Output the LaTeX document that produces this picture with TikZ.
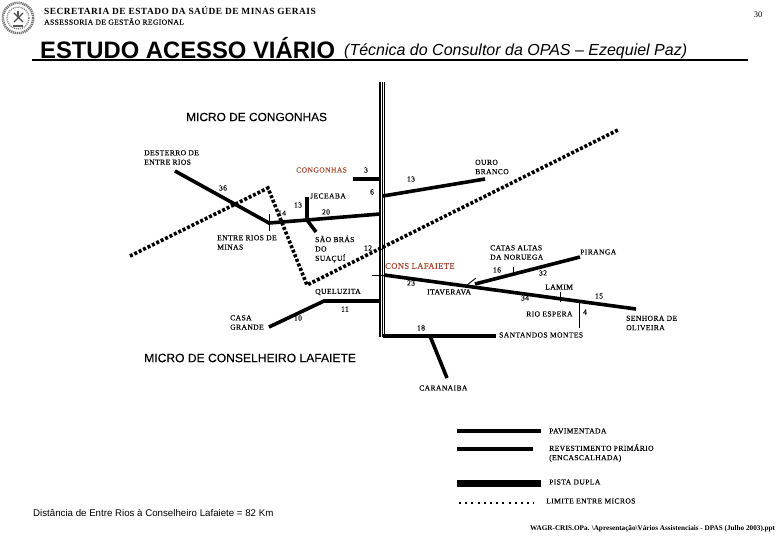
\documentclass[tikz,border=0pt]{standalone}
\usepackage{fontspec}
\setmainfont{Liberation Serif}
\setsansfont{Liberation Sans}
\newfontfamily\mapfont[LetterSpace=5,FakeBold=0.12]{Liberation Serif}
\newfontfamily\semifont[FakeBold=0.12]{Liberation Sans}
\newcommand{\mapsize}{\fontsize{7.6}{9.4}\selectfont\mapfont}
\definecolor{rust}{HTML}{A8492C}
\tikzset{
  x=1pt,y=-1pt,
  road/.style={line width=3.6pt,line join=miter,black},
  thin road/.style={line width=0.9pt,black},
  pista/.style={line width=1.1pt,black},
  border/.style={line width=3.6pt,dash pattern=on 3pt off 1.9pt,black},
  lab/.style={inner sep=0pt,align=left,anchor=west,font=\mapsize,text=black},
  num/.style={inner sep=0pt,anchor=center,font=\mapsize,text=black},
  city/.style={lab,text=rust},
  head/.style={inner sep=0pt,anchor=west,text=black},
}
\begin{document}
\begin{tikzpicture}
\useasboundingbox (0,0) rectangle (780,540);
% seal
\draw[line width=2.6pt,black!55,dash pattern=on 1.2pt off 0.8pt] (18,18) circle (15.2);
\draw[line width=1.4pt,black!50,dash pattern=on 1pt off 1pt] (18,18) circle (11);
\draw[line width=1.3pt,black!70] (14,13)--(23,22) (23,13)--(14,22);
\draw[line width=1.4pt,black!65] (18,11)--(18,17) (13,26)--(23,26);
% header
\node[head,font=\bfseries\fontsize{9.4}{10}\selectfont] (h1) at (44,10.5) {\addfontfeature{LetterSpace=5}SECRETARIA DE ESTADO DA SAÚDE DE MINAS GERAIS};
\node[head,font=\fontsize{7.6}{9}\selectfont\mapfont] (h2) at (44,21.5) {ASSESSORIA DE GESTÃO REGIONAL};
\node[inner sep=0pt,anchor=center,font=\fontsize{8.5}{10}\selectfont] (pg) at (758,15) {30};
\node[head,font=\sffamily\bfseries\fontsize{23.8}{26}\selectfont] (title) at (40,48.5) {ESTUDO ACESSO VIÁRIO};
\node[head,font=\sffamily\itshape\fontsize{16}{18}\selectfont] (sub) at (344,51.5) {(Técnica do Consultor da OPAS – Ezequiel Paz)};
\coordinate (ruleL) at (32,60.5); \coordinate (ruleR) at (748,60.5);
\draw[line width=2pt] (ruleL)--(ruleR);
\node[head,font=\semifont\fontsize{11.9}{14}\selectfont] (mc) at (186,117) {MICRO DE CONGONHAS};
\node[head,font=\semifont\fontsize{12.1}{14}\selectfont] (ml) at (144,358) {MICRO DE CONSELHEIRO LAFAIETE};
% main road
\coordinate (p1t) at (380,82); \coordinate (p1b) at (380,337);
\coordinate (p2t) at (382.4,82); \coordinate (p2b) at (382.4,337);
\coordinate (p3t) at (384.6,82); \coordinate (p3b) at (384.6,337);
\draw[pista] (p1t)--(p1b);\draw[pista] (p2t)--(p2b);\draw[pista] (p3t)--(p3b);
% limits
\coordinate (b0) at (130,256); \coordinate (b1) at (268,188); \coordinate (b2) at (307,285); \coordinate (b3) at (618,130);
\draw[border] (b0)--(b1)--(b2)--(b3);
% roads
\coordinate (dest) at (175,171); \coordinate (er) at (269,223); \coordinate (jj) at (307,220); \coordinate (e20) at (380,214);
\draw[road] (dest)--(er)--(jj)--(e20);
\coordinate (jec) at (307,197); \draw[road] (jec)--(jj);
\coordinate (sb) at (316,232); \draw[road] (jj)--(sb);
\coordinate (tk1) at (269,214); \coordinate (tk2) at (269,231); \draw[thin road] (tk1)--(tk2);
\coordinate (cg1) at (353,179); \coordinate (cg2) at (380,179); \draw[road] (cg1)--(cg2);
\coordinate (ob1) at (383,196); \coordinate (ob2) at (485,179); \draw[road] (ob1)--(ob2);
\coordinate (q1) at (380,301); \coordinate (q2) at (324,301); \coordinate (q3) at (269,327); \draw[road] (q1)--(q2)--(q3);
\coordinate (s1) at (383,336); \coordinate (s2) at (496,336); \draw[road] (s1)--(s2);
\coordinate (c1) at (430,336); \coordinate (c2) at (447,378); \draw[road] (c1)--(c2);
\coordinate (l1) at (384,275); \coordinate (l2) at (636,309); \draw[road] (l1)--(l2);
\coordinate (l0) at (372,275); \draw[thin road] (l0)--(l1);
\coordinate (pi1) at (475,284); \coordinate (pi2) at (580,257); \draw[road] (pi1)--(pi2);
\coordinate (t1a) at (513,267); \coordinate (t1b) at (513,273); \draw[thin road] (t1a)--(t1b);
\coordinate (t2a) at (467,285); \coordinate (t2b) at (476,278); \draw[thin road] (t2a)--(t2b);
\coordinate (t3a) at (560.5,292); \coordinate (t3b) at (560.5,302); \draw[thin road] (t3a)--(t3b);
\coordinate (t4a) at (579,300); \coordinate (t4b) at (579,328); \draw[thin road] (t4a)--(t4b);
% labels
\node[lab] (n1) at (144,157.5) {DESTERRO DE\\ENTRE RIOS};
\node[city] (n2) at (296,170) {CONGONHAS};
\node[num] (n3) at (366,170) {3};
\node[num] (n4) at (223,188) {36};
\node[num] (n5) at (298,205) {13};
\node[lab] (n6) at (310,196) {JECEABA};
\node[num] (n7) at (282,213) {14};
\node[num] (n8) at (372,192) {6};
\node[num] (n9) at (326,212) {20};
\node[num] (n10) at (411,179) {13};
\node[lab] (n11) at (475,167) {OURO\\BRANCO};
\node[lab] (n12) at (217,242.5) {ENTRE RIOS DE\\MINAS};
\node[lab] (n13) at (315,249) {SÃO BRÁS\\DO\\SUAÇUÍ};
\node[num] (n14) at (368,248) {12};
\node[city,font=\fontsize{8.5}{10}\selectfont\mapfont] (n15) at (385,266) {CONS LAFAIETE};
\node[num] (n16) at (411,283) {23};
\node[lab] (n17) at (315,292) {QUELUZITA};
\node[num] (n18) at (345,309) {11};
\node[lab] (n19) at (230,322.5) {CASA\\GRANDE};
\node[num] (n20) at (298,318) {10};
\node[lab] (n21) at (427,292) {ITAVERAVA};
\node[lab] (n22) at (490,252.5) {CATAS ALTAS\\DA NORUEGA};
\node[lab] (n23) at (580,252) {PIRANGA};
\node[num] (n24) at (497,270) {16};
\node[num] (n25) at (543,273) {32};
\node[lab] (n26) at (545,287) {LAMIM};
\node[num] (n27) at (525,298) {34};
\node[num] (n28) at (599,296) {15};
\node[lab] (n29) at (526,314) {RIO ESPERA};
\node[num] (n30) at (585,312) {4};
\node[lab] (n31) at (626,323) {SENHORA DE\\OLIVEIRA};
\node[lab] (n32) at (499,335) {SANTANDOS MONTES};
\node[num] (n33) at (421,328) {18};
\node[lab] (n34) at (419,388) {CARANAIBA};
% legend
\coordinate (k1a) at (457,431); \coordinate (k1b) at (541,431); \draw[line width=4pt] (k1a)--(k1b);
\coordinate (k2a) at (457,449); \coordinate (k2b) at (533,449); \draw[line width=3.6pt] (k2a)--(k2b);
\coordinate (k3a) at (457,483); \coordinate (k3b) at (541,483); \draw[line width=7pt] (k3a)--(k3b);
\coordinate (k4a) at (459,503); \coordinate (k4b) at (534,503); \draw[line width=2.2pt,dash pattern=on 2pt off 4.2pt] (k4a)--(k4b);
\node[lab] (k1) at (549,431) {PAVIMENTADA};
\node[lab] (k2) at (549,453) {REVESTIMENTO PRIMÁRIO\\(ENCASCALHADA)};
\node[lab] (k3) at (549,482) {PISTA DUPLA};
\node[lab] (k4) at (546,501) {LIMITE ENTRE MICROS};
\node[head,font=\sffamily\fontsize{9.7}{11}\selectfont] (dist) at (33,512.5) {Distância de Entre Rios à Conselheiro Lafaiete = 82 Km};
\node[head,font=\bfseries\fontsize{7.2}{8}\selectfont] (foot) at (530,529) {WAGR-CRIS.OPa. \textbackslash Apresentação\textbackslash Vários Assistenciais - DPAS (Julho 2003).ppt};
\end{tikzpicture}
\end{document}
